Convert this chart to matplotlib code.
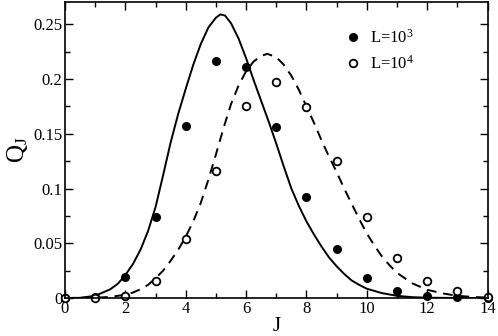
import matplotlib
matplotlib.use("Agg")
import matplotlib.pyplot as plt
from matplotlib.ticker import MultipleLocator

# simulated points
J = [0, 1, 2, 3, 4, 5, 6, 7, 8, 9, 10, 11, 12, 13, 14]
Q_L3 = [0.0, 0.001, 0.019, 0.074, 0.157, 0.216, 0.211, 0.156, 0.092,
        0.045, 0.018, 0.006, 0.002, 0.0005, 0.0003]
Q_L4 = [0.0, 0.0003, 0.002, 0.016, 0.054, 0.116, 0.175, 0.197, 0.174,
        0.125, 0.074, 0.037, 0.016, 0.006, 0.001]

# theory curves
J_solid = [0, 0.5, 1, 1.5, 1.75, 2, 2.25, 2.5, 2.75, 3, 3.25, 3.5, 3.75, 4,
           4.25, 4.5, 4.75, 5, 5.15, 5.3, 5.5, 5.75, 6, 6.25, 6.5, 6.75, 7,
           7.25, 7.5, 7.75, 8, 8.25, 8.5, 8.75, 9, 9.25, 9.5, 9.75, 10, 10.5,
           11, 11.5, 12, 13, 14]
Q_solid = [0, 0.0002, 0.002, 0.008, 0.013, 0.021, 0.031, 0.044, 0.061, 0.083,
           0.112, 0.142, 0.168, 0.191, 0.213, 0.232, 0.247, 0.256, 0.259,
           0.258, 0.251, 0.237, 0.219, 0.199, 0.180, 0.161, 0.141, 0.120,
           0.100, 0.084, 0.070, 0.058, 0.047, 0.037, 0.029, 0.022, 0.016,
           0.012, 0.0085, 0.0045, 0.002, 0.0008, 0.0003, 0.00005, 0]

J_dash = [0, 1, 1.5, 2, 2.25, 2.5, 2.75, 3, 3.25, 3.5, 3.75, 4, 4.25, 4.5,
          4.75, 5, 5.25, 5.5, 5.75, 6, 6.25, 6.5, 6.7, 7, 7.25, 7.5, 7.75, 8,
          8.25, 8.5, 8.75, 9, 9.25, 9.5, 9.75, 10, 10.25, 10.5, 10.75, 11,
          11.5, 12, 12.5, 13, 13.5, 14]
Q_dash = [0, 0.0003, 0.001, 0.003, 0.005, 0.008, 0.012, 0.018, 0.025, 0.034,
          0.044, 0.056, 0.070, 0.087, 0.108, 0.131, 0.155, 0.177, 0.194,
          0.207, 0.216, 0.221, 0.223, 0.220, 0.213, 0.203, 0.190, 0.175,
          0.160, 0.144, 0.129, 0.115, 0.100, 0.086, 0.072, 0.059, 0.048,
          0.038, 0.030, 0.023, 0.0135, 0.0075, 0.0043, 0.002, 0.001, 0.0004]

legend_labels = [r'L=10$^3$', r'L=10$^4$']

plt.rcParams['font.family'] = ['Liberation Serif', 'DejaVu Serif']
plt.rcParams['mathtext.fontset'] = 'custom'
plt.rcParams['mathtext.rm'] = 'Liberation Serif'
plt.rcParams['mathtext.it'] = 'Liberation Serif'

fig = plt.figure(figsize=(4.98, 3.36), dpi=100)
ax = fig.add_axes([0.1305, 0.113, 0.8485, 0.881])

ax.plot(J_solid, Q_solid, color='black', lw=1.4)
ax.plot(J_dash, Q_dash, color='black', lw=1.4, dashes=(5, 3.5))
ax.plot(J, Q_L3, 'o', color='black', ms=5.5, clip_on=False, label=legend_labels[0])
ax.plot(J, Q_L4, 'o', mfc='white', mec='black', mew=1.3, ms=5.5, clip_on=False,
        label=legend_labels[1])

ax.set_xlim(0, 14)
ax.set_ylim(0, 0.2703)
ax.xaxis.set_major_locator(MultipleLocator(2))
ax.xaxis.set_minor_locator(MultipleLocator(1))
ax.yaxis.set_major_locator(MultipleLocator(0.05))
ax.yaxis.set_minor_locator(MultipleLocator(0.025))
ax.tick_params(which='both', direction='in', top=True, right=True,
               labelsize=12, pad=2)
ax.tick_params(which='major', length=6, width=1)
ax.tick_params(which='minor', length=3.5, width=1)
ax.set_yticks([0, 0.05, 0.1, 0.15, 0.2, 0.25])
ax.set_yticklabels(['0', '0.05', '0.1', '0.15', '0.2', '0.25'])
for s in ax.spines.values():
    s.set_linewidth(1.2)

ax.set_xlabel('J', fontsize=15, labelpad=0)
ax.set_ylabel(r'Q$_\mathregular{J}$', fontsize=18, labelpad=2)

ax.legend(loc='upper left', bbox_to_anchor=(0.63, 0.95), frameon=False,
          fontsize=12, handletextpad=0.4, borderpad=0.2, labelspacing=0.5,
          handlelength=1.2)

fig.savefig('out.png', dpi=100)
